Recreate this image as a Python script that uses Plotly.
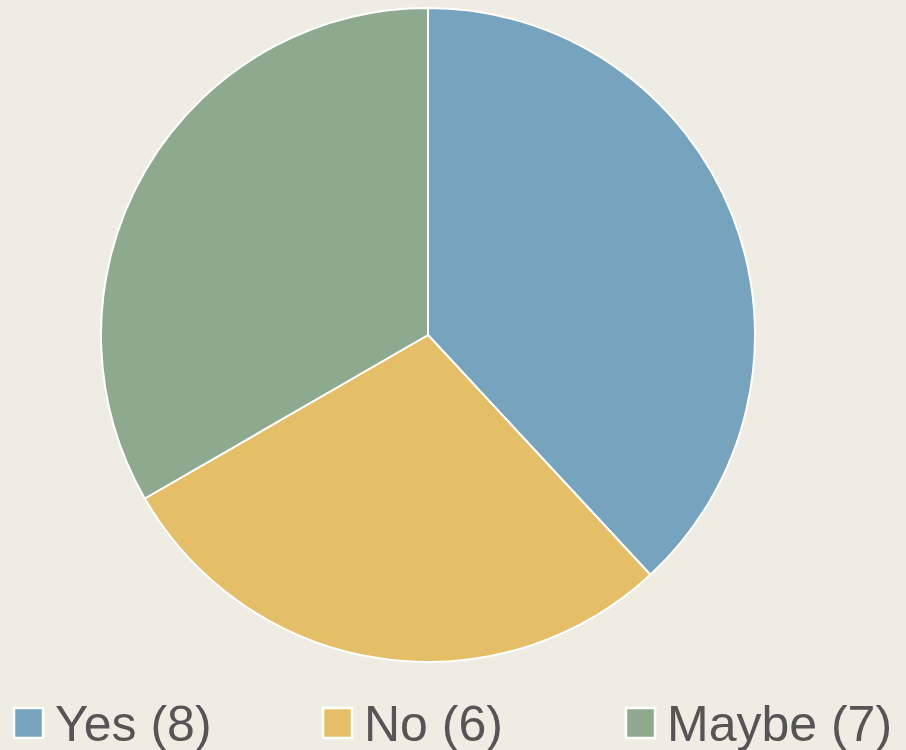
import plotly.graph_objects as go

labels = ["Yes", "No", "Maybe"]
values = [8, 6, 7]
colors = ["#76a3bd", "#e5bf68", "#8eaa8e"]
legend_x = [13, 322, 625]  # left edge of legend swatch, px

W, H = 906, 750
cx, cy, r = 428, 335, 327

fig = go.Figure(go.Pie(
    labels=labels, values=values, sort=False, direction="clockwise", rotation=0,
    marker=dict(colors=colors, line=dict(color="white", width=2)),
    textinfo="none", hoverinfo="label+value", showlegend=False,
    domain=dict(x=[(cx - r) / W, (cx + r) / W], y=[(H - cy - r) / H, (H - cy + r) / H]),
))

shapes, annotations = [], []
for lab, val, col, lx in zip(labels, values, colors, legend_x):
    shapes.append(dict(type="rect", xref="paper", yref="paper",
                       x0=(lx + 1) / W, x1=(lx + 30) / W,
                       y0=(H - 738) / H, y1=(H - 708) / H,
                       fillcolor=col, line=dict(color="white", width=2.5)))
    annotations.append(dict(text=f"{lab} ({val})", xref="paper", yref="paper",
                            x=(lx + 40) / W, y=(H - 724) / H, xanchor="left", yanchor="middle",
                            showarrow=False,
                            font=dict(family="Liberation Sans, Arial", size=50, color="#555555")))

fig.update_layout(width=W, height=H, margin=dict(l=0, r=0, t=0, b=0),
                  paper_bgcolor="#efece4", plot_bgcolor="#efece4",
                  shapes=shapes, annotations=annotations)
fig.write_html("out.html", config={"displayModeBar": False},
               post_script="document.body.style.margin='0';document.body.style.overflow='hidden';")
